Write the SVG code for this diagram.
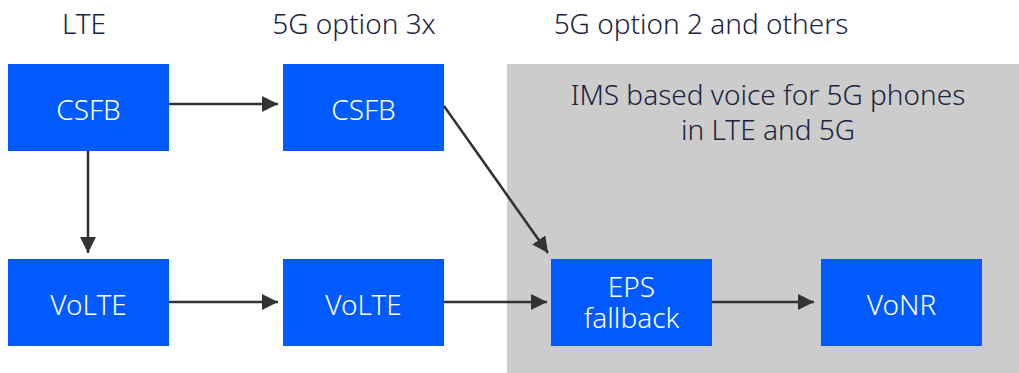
<svg xmlns="http://www.w3.org/2000/svg" width="1019" height="373" viewBox="0 0 1019 373">
  <defs>
    <marker id="arrow" viewBox="0 0 16 16" refX="16" refY="8" markerWidth="16" markerHeight="16" markerUnits="userSpaceOnUse" orient="auto">
      <path d="M0,0 L16,8 L0,16 Z" fill="#333333"/>
    </marker>
    <style>
      .title { font-family: "Noto Sans", "Open Sans", sans-serif; font-size: 28px; font-weight: 300; fill: #1b2440; text-anchor: middle; }
      .box { fill: #005aff; }
      .label { font-family: "Noto Sans", "Open Sans", sans-serif; font-size: 28px; font-weight: 300; fill: #ffffff; text-anchor: middle; }
      .edge { stroke: #333333; stroke-width: 2.5; fill: none; marker-end: url(#arrow); }
    </style>
  </defs>

  <rect width="1019" height="373" fill="#ffffff"/>

  <!-- column headings -->
  <text class="title" x="84" y="34">LTE</text>
  <text class="title" x="354" y="34">5G option 3x</text>
  <text class="title" x="701" y="34">5G option 2 and others</text>

  <!-- IMS voice area -->
  <g id="ims-area">
    <rect x="507" y="64" width="512" height="309" fill="#cccccc"/>
    <text class="title" x="768" y="105">IMS based voice for 5G phones<tspan x="768" y="140">in LTE and 5G</tspan></text>
  </g>

  <g id="lte-csfb">
    <rect class="box" x="8" y="64" width="161" height="87"/>
    <text class="label" x="88.5" y="120">CSFB</text>
  </g>
  <g id="opt3x-csfb">
    <rect class="box" x="283" y="64" width="161" height="87"/>
    <text class="label" x="363.5" y="120">CSFB</text>
  </g>
  <g id="lte-volte">
    <rect class="box" x="8" y="259" width="161" height="87"/>
    <text class="label" x="88.5" y="315">VoLTE</text>
  </g>
  <g id="opt3x-volte">
    <rect class="box" x="283" y="259" width="161" height="87"/>
    <text class="label" x="363.5" y="315">VoLTE</text>
  </g>
  <g id="eps-fallback">
    <rect class="box" x="551" y="259" width="161" height="87"/>
    <text class="label" x="631.5" y="297">EPS<tspan x="631.5" y="328">fallback</tspan></text>
  </g>
  <g id="vonr">
    <rect class="box" x="821" y="259" width="161" height="87"/>
    <text class="label" x="901.5" y="315">VoNR</text>
  </g>

  <g id="connectors">
    <line class="edge" x1="169" y1="104" x2="278" y2="104"/>
    <line class="edge" x1="88" y1="151" x2="88" y2="253"/>
    <line class="edge" x1="169" y1="302" x2="278" y2="302"/>
    <line class="edge" x1="444" y1="302" x2="547" y2="302"/>
    <line class="edge" x1="712" y1="302" x2="814" y2="302"/>
    <line class="edge" x1="444" y1="106" x2="548" y2="253"/>
  </g>
</svg>
